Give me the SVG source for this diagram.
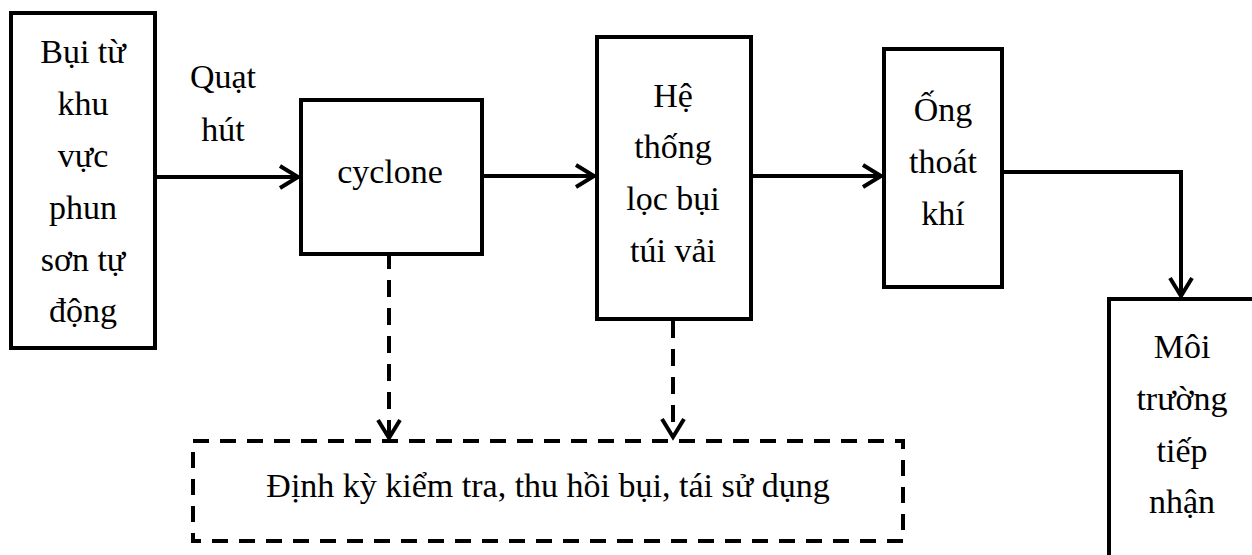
<svg xmlns="http://www.w3.org/2000/svg" width="1252" height="555" viewBox="0 0 1252 555">
<style>
.box{fill:#fff;stroke:#000;stroke-width:4;stroke-linejoin:miter}
.dbox{fill:none;stroke:#000;stroke-width:4;stroke-dasharray:16 11}
.t{font-family:"Liberation Serif","Times New Roman",serif;font-size:34px;fill:#000;text-anchor:middle}
.c{fill:none;stroke:#000;stroke-width:4}
.d{fill:none;stroke:#000;stroke-width:4;stroke-dasharray:17 11}
</style>
<defs>
<marker id="ah" viewBox="-24 -14 28 28" refX="0" refY="0" markerWidth="28" markerHeight="28" markerUnits="userSpaceOnUse" orient="auto">
<path d="M-18,-11 L0,0 L-18,11" fill="none" stroke="#000" stroke-width="4" stroke-dasharray="none"/>
</marker>
</defs>
<g id="connectors">
<line class="c" x1="155" y1="177" x2="298" y2="177" marker-end="url(#ah)"/>
<line class="c" x1="482" y1="176" x2="594" y2="176" marker-end="url(#ah)"/>
<line class="c" x1="751" y1="176" x2="881" y2="176" marker-end="url(#ah)"/>
<path class="c" d="M1002,172 H1181 V296" marker-end="url(#ah)"/>
<line class="d" x1="389" y1="252" x2="389" y2="438" marker-end="url(#ah)"/>
<line class="d" x1="673" y1="321" x2="673" y2="437" marker-end="url(#ah)"/>
</g>
<g id="node-source">
<rect class="box" x="11" y="13" width="144" height="335"/>
<text class="t" x="83" y="63">Bụi từ</text>
<text class="t" x="83" y="115">khu</text>
<text class="t" x="83" y="167">vực</text>
<text class="t" x="83" y="219">phun</text>
<text class="t" x="83" y="271">sơn tự</text>
<text class="t" x="83" y="322">động</text>
</g>
<g id="label-fan">
<text class="t" x="223" y="88">Quạt</text>
<text class="t" x="223" y="141">hút</text>
</g>
<g id="node-cyclone">
<rect class="box" x="301" y="100" width="181" height="154"/>
<text class="t" x="390" y="183">cyclone</text>
</g>
<g id="node-filter">
<rect class="box" x="597" y="37" width="154" height="282"/>
<text class="t" x="673" y="107">Hệ</text>
<text class="t" x="673" y="158">thống</text>
<text class="t" x="673" y="210">lọc bụi</text>
<text class="t" x="673" y="262">túi vải</text>
</g>
<g id="node-stack">
<rect class="box" x="884" y="49" width="118" height="238"/>
<text class="t" x="943" y="121">Ống</text>
<text class="t" x="943" y="173">thoát</text>
<text class="t" x="943" y="225">khí</text>
</g>
<g id="node-env">
<rect class="box" x="1109" y="299" width="150" height="270"/>
<text class="t" x="1182" y="358">Môi</text>
<text class="t" x="1182" y="410">trường</text>
<text class="t" x="1182" y="462">tiếp</text>
<text class="t" x="1182" y="513">nhận</text>
</g>
<g id="node-maintenance">
<rect class="dbox" x="193" y="441" width="710" height="100"/>
<text class="t" x="548" y="497">Định kỳ kiểm tra, thu hồi bụi, tái sử dụng</text>
</g>
</svg>
